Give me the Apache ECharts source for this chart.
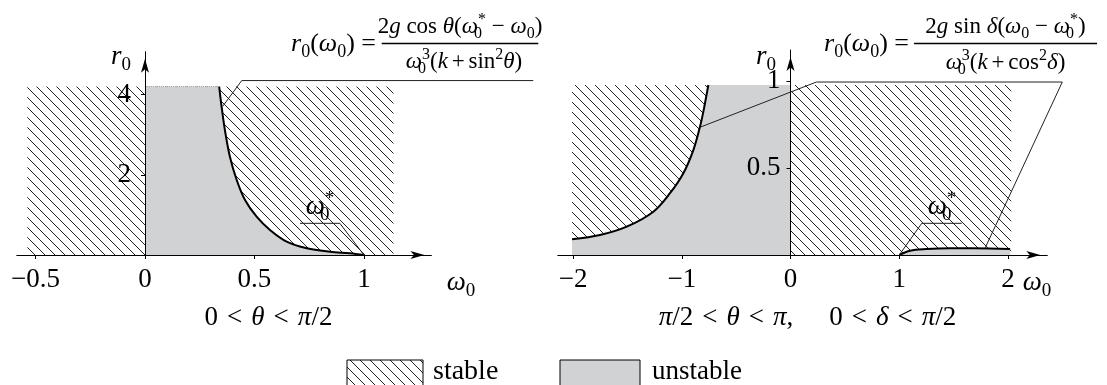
<!DOCTYPE html>
<html>
<head>
<meta charset="utf-8">
<title>stability regions</title>
<script src="https://cdn.jsdelivr.net/npm/echarts@6.0.0/dist/echarts.min.js"></script>
<style>
  html, body { margin: 0; padding: 0; background: #fff; }
  #main { width: 1107px; height: 385px; }
</style>
</head>
<body>
<div id="main"></div>
<script>
// ---- left panel: 0 < theta < pi/2 ----
var leftStable = [[-0.537, 4.2], [1.135, 4.2]];
var leftCurve = [[0.339, 4.2], [0.350, 3.70], [0.365, 3.12], [0.388, 2.45], [0.419, 1.87],
                 [0.457, 1.37], [0.510, 0.955], [0.571, 0.623], [0.647, 0.332], [0.739, 0.167],
                 [0.845, 0.082], [0.936, 0.042], [1.0, 0]];
var leftTop = [[0, 4.2], [0.339, 4.2]];
var leftUnder = [[0, 4.2], [0.339, 4.2], [0.347, 3.6], [0.38, 2.4], [0.42, 1.6]];  // gray block under the curve's steep part
var leftFormulaLeader = [[0.354, 3.70], [0.442, 4.35], [1.773, 4.35]];
var leftStarLeader = [[0.708, 0.79], [0.890, 0.79], [1.0, 0]];
var leftXTicks = [-0.5, 0, 0.5, 1];
var leftYTicks = [2, 4];

// ---- right panel: pi/2 < theta < pi, 0 < delta < pi/2 ----
var rightStable = [[-2.01, 0.977], [2.03, 0.977]];
var rightCurveL = [[-2.01, 0.09], [-1.753, 0.115], [-1.507, 0.163], [-1.262, 0.249], [-1.109, 0.355],
                   [-0.986, 0.470], [-0.894, 0.603], [-0.833, 0.737], [-0.802, 0.824], [-0.756, 0.977]];
var rightUnder = [[-0.95, 0.45], [-0.85, 0.64], [-0.795, 0.80], [-0.756, 0.977], [0, 0.977]];
var rightCurveR = [[1.0, 0], [1.1, 0.025], [1.25, 0.034], [1.467, 0.0385], [1.68, 0.0385], [2.02, 0.034]];
var rightFormulaLeader = [[-0.833, 0.734], [0.238, 0.994], [2.50, 0.994], [1.789, 0.0385]];
var rightStarLeader = [[1.575, 0.182], [1.207, 0.182], [1.0, 0]];
var rightXTicks = [-2, -1, 0, 1, 2];
var rightYTicks = [0.5, 1];

var FF = '"Liberation Serif", "DejaVu Serif", serif';
var GRAY = '#d1d2d4';

// hatch pattern "\\\\"
var hatch = document.createElement('canvas');
hatch.width = 10; hatch.height = 10;
var hc = hatch.getContext('2d');
hc.strokeStyle = '#222';
hc.lineWidth = 1;
hc.beginPath();
hc.moveTo(-1, -1); hc.lineTo(11, 11);
hc.moveTo(-1, 9); hc.lineTo(1, 11);
hc.moveTo(9, -1); hc.lineTo(11, 1);
hc.stroke();
var hatchFill = { image: hatch, repeat: 'repeat' };

function area(g, data, fill, z, smooth) {
    return { type: 'line', xAxisIndex: g, yAxisIndex: g, data: data, symbol: 'none', silent: true,
        smooth: smooth ? 0.35 : false,
        lineStyle: { width: 0, opacity: 0 }, areaStyle: { color: fill, opacity: 1 }, z: z };
}
function curve(g, data, w, color, z, dash, smooth) {
    return { type: 'line', xAxisIndex: g, yAxisIndex: g, data: data, symbol: 'none', silent: true,
        smooth: smooth ? 0.35 : false,
        lineStyle: { width: w, color: color, type: dash || 'solid' }, z: z };
}
function fmt(v) { return String(v).replace('-', '\u2212'); }

function xAx(g, min, max, ticks) {
    return { type: 'value', gridIndex: g, min: min, max: max, z: 10,
        axisLine: { onZero: false, lineStyle: { color: '#000', width: 1 }, symbol: ['none', 'arrow'], symbolSize: [6, 14], symbolOffset: [0, -7] },
        axisTick: { show: true, inside: false, length: 4, lineStyle: { color: '#000' }, customValues: ticks },
        axisLabel: { customValues: ticks, margin: 11, fontFamily: FF, fontSize: 27, color: '#000', formatter: fmt },
        splitLine: { show: false } };
}
function yAx(g, max, ticks, margin, offset) {
    return { type: 'value', gridIndex: g, min: 0, max: max, z: 10, offset: offset,
        axisLine: { onZero: false, lineStyle: { color: '#000', width: 1 }, symbol: ['none', 'arrow'], symbolSize: [6, 14], symbolOffset: [0, -7] },
        axisTick: { show: true, inside: false, length: 4, lineStyle: { color: '#000' }, customValues: ticks },
        axisLabel: { customValues: ticks, margin: margin, fontFamily: FF, fontSize: 27, color: '#000', formatter: fmt, padding: [6, 0, 0, 0] },
        splitLine: { show: false } };
}

function richSet(size) {
    var lh = Math.round(size * 1.5);
    var s = Math.round(size * 0.7);
    return {
        n: { fontFamily: FF, fontSize: size, fill: '#000', lineHeight: lh },
        i: { fontFamily: FF, fontSize: size, fontStyle: 'italic', fill: '#000', lineHeight: lh },
        sb: { fontFamily: FF, fontSize: s, fill: '#000', lineHeight: lh, padding: [Math.round(size * 0.6), 0, 0, 0] },
        sbz: { fontFamily: FF, fontSize: s, fill: '#000', lineHeight: lh, width: 0, padding: [Math.round(size * 0.6), 0, 0, 0] },
        sp: { fontFamily: FF, fontSize: s, fill: '#000', lineHeight: lh, padding: [0, 0, Math.round(size * 0.6), 0] }
    };
}
function txt(s, x, y, size, align) {
    return { type: 'text', x: x, y: y, silent: true, z: 20,
        style: { text: s, align: align || 'center', verticalAlign: 'middle', rich: richSet(size), fill: '#000' } };
}
function bar(x1, x2, y) {
    return { type: 'line', silent: true, z: 20, shape: { x1: x1, y1: y, x2: x2, y2: y }, style: { stroke: '#000', lineWidth: 1.3 } };
}

var chart = echarts.init(document.getElementById('main'), null, { renderer: 'canvas' });
chart.setOption({
    animation: false,
    backgroundColor: '#fff',
    grid: [
        { left: 16.8, top: 51.7, width: 414.6, height: 203.3, containLabel: false, outerBoundsMode: 'none' },
        { left: 557.8, top: 50, width: 489.5, height: 205, containLabel: false, outerBoundsMode: 'none' }
    ],
    xAxis: [xAx(0, -0.585, 1.308, leftXTicks), xAx(1, -2.141, 2.362, rightXTicks)],
    yAxis: [yAx(0, 5.07, leftYTicks, 14, -128.2), yAx(1, 1.178, rightYTicks, 10, -232.7)],
    series: [
        area(0, leftStable, hatchFill, 1),
        area(0, leftUnder, GRAY, 2),
        area(0, leftCurve, GRAY, 2, true),
        curve(0, leftTop, 1, '#9a9a9a', 3, 'dotted'),
        curve(0, leftCurve, 2, '#000', 4, null, true),

        area(1, rightStable, hatchFill, 1),
        area(1, rightCurveL, GRAY, 2, true),
        area(1, rightUnder, GRAY, 2),
        area(1, rightCurveR, GRAY, 2, true),
        curve(1, rightCurveL, 2, '#000', 4, null, true),
        curve(1, rightCurveR, 2, '#000', 4, null, true)
    ]
});

// leader lines go through the grids' own scales (they run past the axis ends)
function leader(g, pts) {
    var p = pts.map(function (d) { return chart.convertToPixel({ gridIndex: g }, d); });
    return { type: 'polyline', silent: true, z: 15, shape: { points: p }, style: { stroke: '#222', lineWidth: 1, fill: null } };
}

var S = '\u2004';
chart.setOption({
    graphic: [
        leader(0, leftFormulaLeader),
        leader(0, leftStarLeader),
        leader(1, rightFormulaLeader),
        leader(1, rightStarLeader),
        // left formula
        txt('{i|r}{sb|0}{n|(}{i|ω}{sb|0}{n|) =}', 376, 44, 26, 'right'),
        txt('{n|2}{i|g}{n| cos }{i|θ}{n|(}{i|ω}{sbz|0}{sp|*}{n| − }{i|ω}{sb|0}{n|)}', 460, 27, 23),
        bar(381.7, 538.3, 43.5),
        txt('{i|ω}{sbz|0}{sp|3}{n|(}{i|k}{n|\u2006+\u2006sin}{sp|2}{i|θ}{n|)}', 464, 62, 23),
        // right formula
        txt('{i|r}{sb|0}{n|(}{i|ω}{sb|0}{n|) =}', 909, 44, 26, 'right'),
        txt('{n|2}{i|g}{n| sin }{i|δ}{n|(}{i|ω}{sb|0}{n| − }{i|ω}{sbz|0}{sp|*}{n|)}', 1005.5, 27, 23),
        bar(914, 1097, 43.5),
        txt('{i|ω}{sbz|0}{sp|3}{n|(}{i|k}{n|\u2006+\u2006cos}{sp|2}{i|δ}{n|)}', 1005.5, 63, 23),
        // omega0* labels
        txt('{i|ω}{sbz|0}{sp|*}', 320, 207, 27),
        txt('{i|ω}{sbz|0}{sp|*}', 942, 207, 27),
        // axis names
        txt('{i|ω}{sb|0}', 461, 283, 27),
        txt('{i|ω}{sb|0}', 1037, 283, 27),
        txt('{i|r}{sb|0}', 121, 57, 27),
        txt('{i|r}{sb|0}', 766, 57, 27),
        // captions
        txt('{n|0' + S + '<' + S + '}{i|θ}{n|' + S + '<' + S + '}{i|π}{n|/2}', 268.5, 318, 27),
        txt('{i|π}{n|/2' + S + '<' + S + '}{i|θ}{n|' + S + '<' + S + '}{i|π}{n|,\u2003' + S + '0' + S + '<' + S + '}{i|δ}{n|' + S + '<' + S + '}{i|π}{n|/2}', 807.5, 318, 27),
        // legend
        { type: 'rect', silent: true, z: 20, shape: { x: 347, y: 360, width: 76, height: 40 }, style: { fill: hatchFill, stroke: '#000', lineWidth: 1 } },
        txt('{n|stable}', 433, 372, 28, 'left'),
        { type: 'rect', silent: true, z: 20, shape: { x: 560, y: 360, width: 80, height: 40 }, style: { fill: GRAY, stroke: '#000', lineWidth: 1 } },
        txt('{n|unstable}', 652, 372, 27, 'left')
    ]
});
</script>
</body>
</html>
